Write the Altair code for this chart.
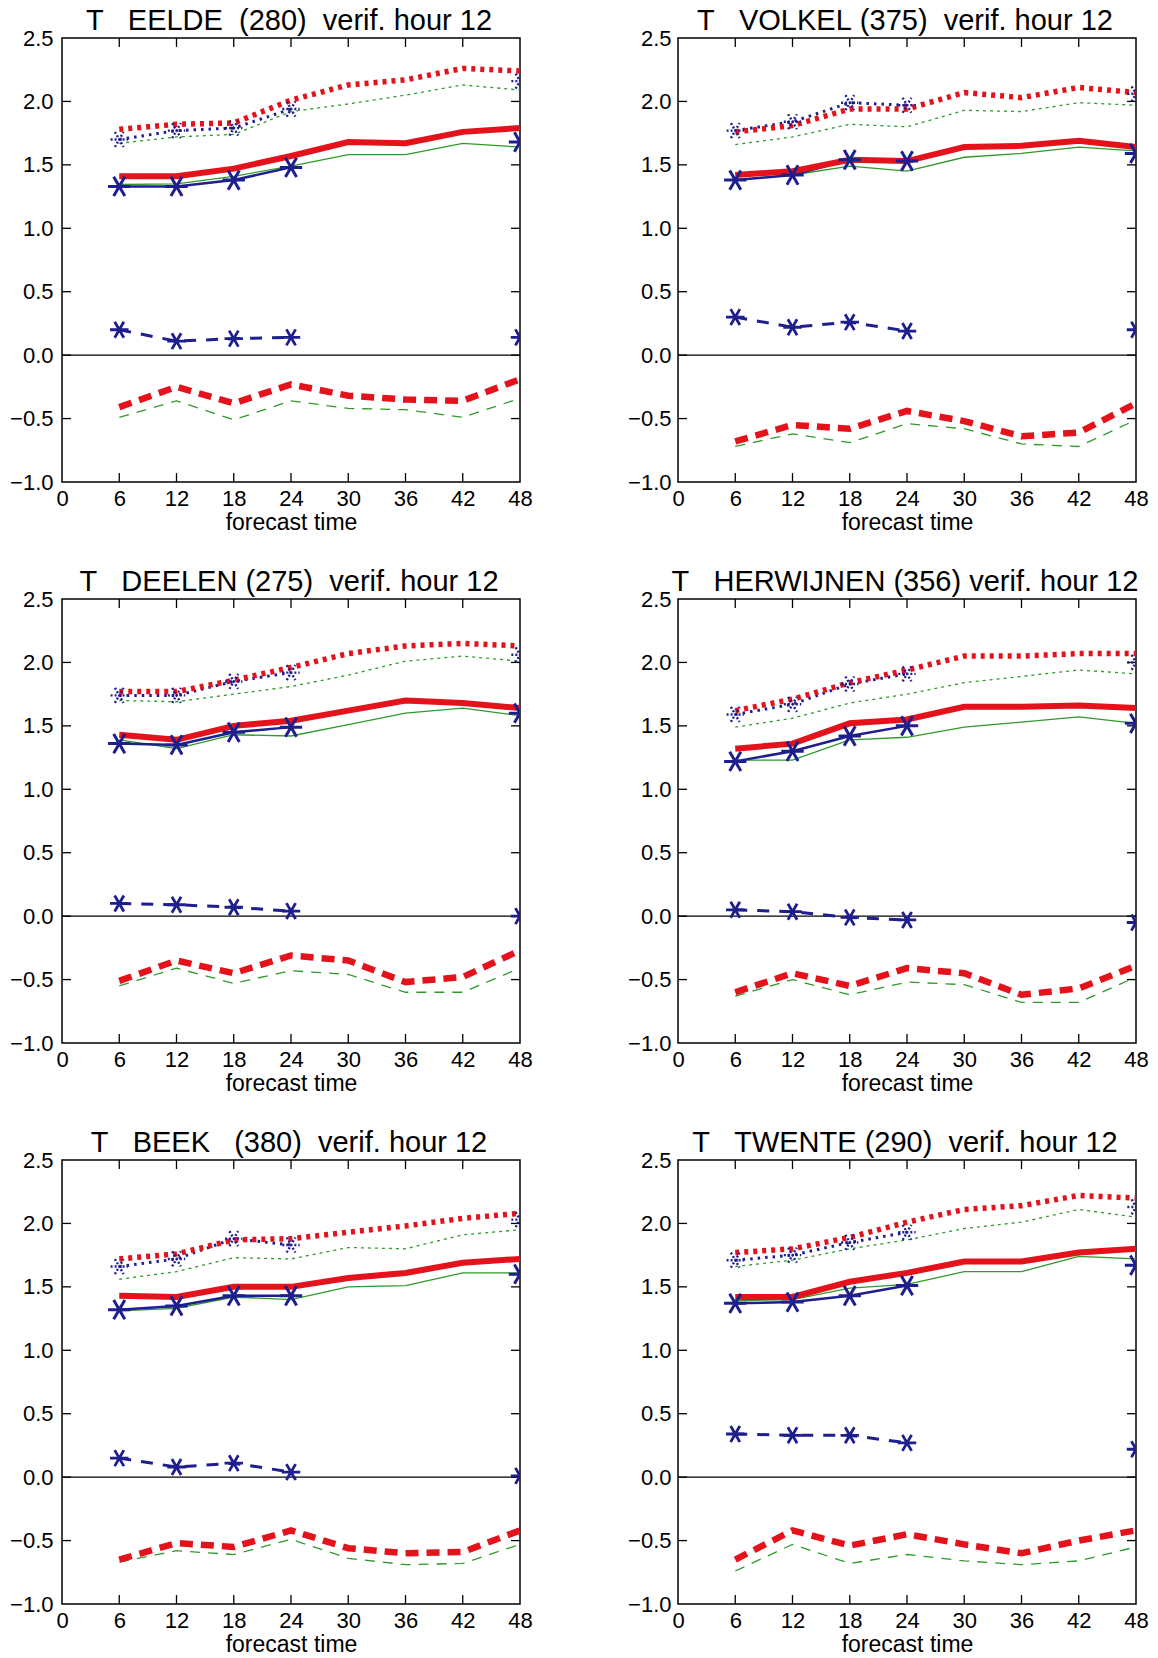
import altair as alt
import pandas as pd

# Forecast lead times (h)
LEAD = [6, 12, 18, 24, 30, 36, 42, 48]
LEAD_BLUE = [6, 12, 18, 24, 48]
X_TICKS = [0, 6, 12, 18, 24, 30, 36, 42, 48]
Y_TICKS = [-1.0, -0.5, 0.0, 0.5, 1.0, 1.5, 2.0, 2.5]

STATIONS = ["EELDE", "VOLKEL", "DEELEN", "HERWIJNEN", "BEEK", "TWENTE"]
TITLES = {
    "EELDE": "T   EELDE  (280)  verif. hour 12",
    "VOLKEL": "T   VOLKEL (375)  verif. hour 12",
    "DEELEN": "T   DEELEN (275)  verif. hour 12",
    "HERWIJNEN": "T   HERWIJNEN (356) verif. hour 12",
    "BEEK": "T   BEEK   (380)  verif. hour 12",
    "TWENTE": "T   TWENTE (290)  verif. hour 12",
}

# standard deviation of the error
SD_RED = {
    "EELDE": [1.78, 1.82, 1.83, 2.01, 2.13, 2.17, 2.26, 2.24],
    "VOLKEL": [1.76, 1.81, 1.94, 1.94, 2.07, 2.03, 2.11, 2.07],
    "DEELEN": [1.77, 1.77, 1.86, 1.96, 2.07, 2.13, 2.15, 2.13],
    "HERWIJNEN": [1.62, 1.71, 1.84, 1.94, 2.05, 2.05, 2.07, 2.07],
    "BEEK": [1.72, 1.76, 1.87, 1.88, 1.93, 1.98, 2.04, 2.08],
    "TWENTE": [1.77, 1.80, 1.89, 2.01, 2.11, 2.14, 2.22, 2.20],
}
SD_GREEN = {
    "EELDE": [1.67, 1.72, 1.74, 1.92, 1.98, 2.05, 2.13, 2.09],
    "VOLKEL": [1.66, 1.72, 1.82, 1.80, 1.93, 1.92, 1.99, 1.97],
    "DEELEN": [1.70, 1.69, 1.75, 1.81, 1.90, 2.01, 2.05, 2.01],
    "HERWIJNEN": [1.49, 1.56, 1.68, 1.75, 1.84, 1.89, 1.94, 1.91],
    "BEEK": [1.56, 1.62, 1.73, 1.72, 1.81, 1.80, 1.91, 1.95],
    "TWENTE": [1.66, 1.71, 1.80, 1.87, 1.96, 2.01, 2.11, 2.05],
}
SD_BLUE = {
    "EELDE": [1.70, 1.77, 1.79, 1.94, 2.16],
    "VOLKEL": [1.77, 1.84, 1.99, 1.97, 2.06],
    "DEELEN": [1.74, 1.74, 1.85, 1.92, 2.06],
    "HERWIJNEN": [1.59, 1.67, 1.83, 1.91, 2.00],
    "BEEK": [1.66, 1.72, 1.88, 1.83, 2.03],
    "TWENTE": [1.71, 1.75, 1.85, 1.93, 2.13],
}

# rms error
RMS_RED = {
    "EELDE": [1.41, 1.41, 1.47, 1.57, 1.68, 1.67, 1.76, 1.79],
    "VOLKEL": [1.42, 1.45, 1.54, 1.53, 1.64, 1.65, 1.69, 1.64],
    "DEELEN": [1.43, 1.39, 1.50, 1.54, 1.62, 1.70, 1.68, 1.64],
    "HERWIJNEN": [1.32, 1.36, 1.52, 1.55, 1.65, 1.65, 1.66, 1.64],
    "BEEK": [1.43, 1.42, 1.50, 1.50, 1.57, 1.61, 1.69, 1.72],
    "TWENTE": [1.42, 1.42, 1.54, 1.61, 1.70, 1.70, 1.77, 1.80],
}
RMS_GREEN = {
    "EELDE": [1.345, 1.35, 1.41, 1.49, 1.58, 1.58, 1.67, 1.64],
    "VOLKEL": [1.38, 1.42, 1.49, 1.45, 1.56, 1.59, 1.64, 1.61],
    "DEELEN": [1.39, 1.32, 1.43, 1.42, 1.51, 1.60, 1.64, 1.58],
    "HERWIJNEN": [1.23, 1.23, 1.39, 1.41, 1.49, 1.53, 1.57, 1.52],
    "BEEK": [1.31, 1.33, 1.42, 1.40, 1.50, 1.51, 1.61, 1.61],
    "TWENTE": [1.39, 1.40, 1.49, 1.52, 1.62, 1.62, 1.74, 1.72],
}
RMS_BLUE = {
    "EELDE": [1.33, 1.33, 1.38, 1.48, 1.68],
    "VOLKEL": [1.38, 1.42, 1.54, 1.53, 1.59],
    "DEELEN": [1.36, 1.35, 1.45, 1.49, 1.60],
    "HERWIJNEN": [1.22, 1.30, 1.42, 1.50, 1.52],
    "BEEK": [1.32, 1.35, 1.43, 1.43, 1.60],
    "TWENTE": [1.37, 1.38, 1.43, 1.51, 1.67],
}

# mean error (bias)
BIAS_RED = {
    "EELDE": [-0.41, -0.25, -0.38, -0.23, -0.32, -0.35, -0.36, -0.19],
    "VOLKEL": [-0.68, -0.55, -0.58, -0.44, -0.52, -0.64, -0.61, -0.38],
    "DEELEN": [-0.51, -0.35, -0.45, -0.31, -0.35, -0.52, -0.48, -0.27],
    "HERWIJNEN": [-0.60, -0.45, -0.55, -0.41, -0.45, -0.62, -0.57, -0.39],
    "BEEK": [-0.65, -0.52, -0.55, -0.42, -0.56, -0.60, -0.59, -0.42],
    "TWENTE": [-0.65, -0.42, -0.54, -0.45, -0.53, -0.60, -0.50, -0.42],
}
BIAS_GREEN = {
    "EELDE": [-0.49, -0.36, -0.51, -0.36, -0.42, -0.43, -0.49, -0.34],
    "VOLKEL": [-0.72, -0.62, -0.69, -0.54, -0.58, -0.70, -0.72, -0.51],
    "DEELEN": [-0.55, -0.41, -0.53, -0.43, -0.46, -0.60, -0.60, -0.41],
    "HERWIJNEN": [-0.63, -0.50, -0.62, -0.52, -0.54, -0.68, -0.68, -0.48],
    "BEEK": [-0.67, -0.58, -0.61, -0.49, -0.64, -0.69, -0.68, -0.53],
    "TWENTE": [-0.74, -0.53, -0.68, -0.61, -0.66, -0.69, -0.66, -0.55],
}
BIAS_BLUE = {
    "EELDE": [0.20, 0.11, 0.13, 0.14, 0.14],
    "VOLKEL": [0.30, 0.22, 0.26, 0.19, 0.20],
    "DEELEN": [0.10, 0.09, 0.07, 0.04, 0.00],
    "HERWIJNEN": [0.05, 0.035, -0.01, -0.03, -0.05],
    "BEEK": [0.15, 0.08, 0.11, 0.04, 0.01],
    "TWENTE": [0.34, 0.33, 0.33, 0.27, 0.22],
}

RED = "#e3121b"
GREEN = "#2f9a2a"
BLUE = "#1e1e8e"
FONT = "Liberation Sans"
W, H = 458, 444
TICK = 9

# six-armed asterisk
ASTERISK = "M-1,0L1,0M-0.5,-0.866L0.5,0.866M-0.5,0.866L0.5,-0.866"

XS = alt.Scale(domain=[0, 48], nice=False, zero=False)
YS = alt.Scale(domain=[-1.0, 2.5], nice=False, zero=False)

X_AXIS = alt.Axis(
    values=X_TICKS, format="d", title="forecast time", grid=False,
    domain=False, ticks=False, tickSize=0, labelPadding=6,
    labelFlush=False, labelOverlap=False, titlePadding=2,
)


def y_axis(pad):
    return alt.Axis(
        values=Y_TICKS, format=".1f", title=None, grid=False,
        domain=False, ticks=False, tickSize=0, labelPadding=pad,
        labelOverlap=False,
    )


def panel(st, label_pad):
    YA = y_axis(label_pad)

    def xq(field="x"):
        return alt.X(f"{field}:Q", scale=XS, axis=X_AXIS)

    def yq(field="y"):
        return alt.Y(f"{field}:Q", scale=YS, axis=YA)

    def frame(xs, ys):
        return pd.DataFrame({"x": xs, "y": ys})

    def line(xs, ys, color, width, dash=None):
        kw = dict(color=color, strokeWidth=width, clip=True, strokeCap="butt")
        if dash is not None:
            kw["strokeDash"] = dash
        return alt.Chart(frame(xs, ys)).mark_line(**kw).encode(x=xq(), y=yq())

    def stars(xs, ys, size, width, dash=None):
        kw = dict(shape=ASTERISK, size=size, color=BLUE, filled=False,
                  strokeWidth=width, opacity=1, clip=True)
        if dash is not None:
            kw["strokeDash"] = dash
        return alt.Chart(frame(xs, ys)).mark_point(**kw).encode(x=xq(), y=yq())

    zero = alt.Chart(pd.DataFrame({"v": [0.0]})).mark_rule(
        color="black", strokeWidth=1.3
    ).encode(y=yq("v"))

    xt = pd.DataFrame({"t": X_TICKS[1:-1]})
    yt = pd.DataFrame({"t": Y_TICKS[1:-1]})
    tick_kw = dict(color="black", strokeWidth=1.3)
    ticks = [
        alt.Chart(xt).mark_rule(**tick_kw).encode(
            x=xq("t"), y=alt.value(H), y2=alt.value(H - TICK)),
        alt.Chart(xt).mark_rule(**tick_kw).encode(
            x=xq("t"), y=alt.value(0), y2=alt.value(TICK)),
        alt.Chart(yt).mark_rule(**tick_kw).encode(
            y=yq("t"), x=alt.value(0), x2=alt.value(TICK)),
        alt.Chart(yt).mark_rule(**tick_kw).encode(
            y=yq("t"), x=alt.value(W - TICK), x2=alt.value(W)),
    ]

    # panel heading, set just above the frame
    heading = alt.Chart(
        pd.DataFrame({"label": [TITLES[st].replace(" ", "\u00a0")]})
    ).mark_text(
        font=FONT, fontSize=29, color="black", align="center",
        baseline="alphabetic",
    ).encode(text="label:N", x=alt.value(W / 2 - 2), y=alt.value(-8))

    lb = LEAD_BLUE[:4]
    layers = [
        zero,
        *ticks,
        # green model: thin lines
        line(LEAD, SD_GREEN[st], GREEN, 1.3, [3, 4]),
        line(LEAD, RMS_GREEN[st], GREEN, 1.3),
        line(LEAD, BIAS_GREEN[st], GREEN, 1.3, [10, 8]),
        # blue model: lines up to +24 h
        line(lb, SD_BLUE[st][:4], BLUE, 3, [2.5, 5]),
        line(lb, RMS_BLUE[st][:4], BLUE, 2.5),
        line(lb, BIAS_BLUE[st][:4], BLUE, 3, [12, 10]),
        # red model: thick lines
        line(LEAD, SD_RED[st], RED, 5.5, [4, 5]),
        line(LEAD, RMS_RED[st], RED, 6),
        line(LEAD, BIAS_RED[st], RED, 6.5, [13, 8]),
        # blue asterisks
        stars(LEAD_BLUE, SD_BLUE[st], 300, 2.4, [2, 2]),
        stars(LEAD_BLUE, RMS_BLUE[st], 500, 3),
        stars(LEAD_BLUE, BIAS_BLUE[st], 340, 2.8),
        heading,
    ]
    return alt.layer(*layers).properties(width=W, height=H)


panels = [panel(st, 9 if i % 2 == 0 else 7) for i, st in enumerate(STATIONS)]

chart = alt.concat(
    *panels, columns=2, spacing={"row": 117, "column": 158}, bounds="flush"
).properties(
    padding={"left": 8, "top": 6, "right": 5, "bottom": 1},
    background="white",
).configure_view(
    stroke="black", strokeWidth=1.5
).configure_axis(
    labelFont=FONT, labelFontSize=22, labelColor="black",
    titleFont=FONT, titleFontSize=23, titleColor="black", titleFontWeight="normal",
)

chart.save("out.html", embed_options={"renderer": "svg", "actions": False})
